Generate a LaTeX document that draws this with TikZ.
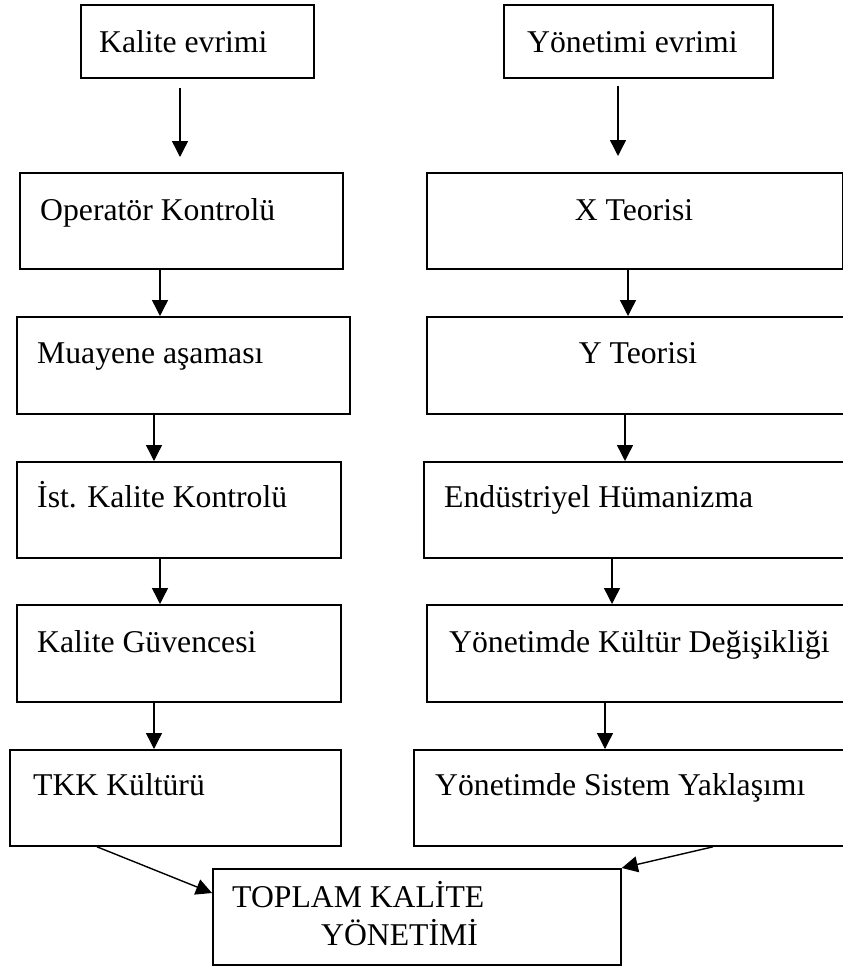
\documentclass[tikz,border=0pt]{standalone}
\usepackage{fontspec}
\setmainfont{Liberation Serif}
\usetikzlibrary{arrows.meta}
\begin{document}
\begin{tikzpicture}[x=1pt,y=-1pt,
  box/.style={draw, line width=1.8pt, inner sep=0pt, anchor=north west},
  txt/.style={inner sep=0pt, font=\fontsize{31.7}{38}\selectfont, anchor=base west},
  arr/.style={line width=1.4pt, -{Triangle[length=16pt,width=16pt]}}]
\clip (0,0) rectangle (843,969);
\fill[white] (0,0) rectangle (843,969);

% left column: evolution of quality
\node[box, minimum width=233pt, minimum height=73pt] (ke) at (80,4) {};
\node[box, minimum width=323pt, minimum height=96pt] (ok) at (19,172) {};
\node[box, minimum width=333pt, minimum height=97pt] (ma) at (16,316) {};
\node[box, minimum width=324pt, minimum height=96pt] (ik) at (16,461) {};
\node[box, minimum width=324pt, minimum height=97pt] (kg) at (16,604) {};
\node[box, minimum width=331pt, minimum height=96pt] (tk) at (9,749) {};

% right column: evolution of management
\node[box, minimum width=269pt, minimum height=73pt] (ye) at (503,4) {};
\node[box, minimum width=416pt, minimum height=96pt] (xt) at (426,172) {};
\node[box, minimum width=430pt, minimum height=97pt] (yt) at (426,316) {};
\node[box, minimum width=433pt, minimum height=96pt] (eh) at (423,461) {};
\node[box, minimum width=430pt, minimum height=97pt] (yk) at (426,604) {};
\node[box, minimum width=443pt, minimum height=96pt] (ys) at (413,749) {};

% result
\node[box, minimum width=408pt, minimum height=96pt] (tkm) at (212,868) {};

% labels
\node[txt] (tke) at (99,52) {Kalite evrimi};
\node[txt] (tok) at (40,220) {Operatör Kontrolü};
\node[txt] (tma) at (37,363) {Muayene aşaması};
\node[txt] (tik) at (37,507) {İst. Kalite Kontrolü};
\node[txt] (tkg) at (37,652) {Kalite Güvencesi};
\node[txt] (ttk) at (33,795) {TKK Kültürü};
\node[txt] (tye) at (527,52) {Yönetimi evrimi};
\node[txt, anchor=base] (txt) at (634,220) {X Teorisi};
\node[txt, anchor=base] (tyt) at (638,363) {Y Teorisi};
\node[txt] (teh) at (444,507) {Endüstriyel Hümanizma};
\node[txt] (tyk) at (449,652) {Yönetimde Kültür Değişikliği};
\node[txt] (tys) at (435,795) {Yönetimde Sistem Yaklaşımı};
\node[txt] (tt1) at (232,907) {TOPLAM KALİTE};
\node[txt] (tt2) at (321,945) {YÖNETİMİ};

% arrow columns
\coordinate (l1) at (180,0);
\coordinate (l2) at (160,0);
\coordinate (l3) at (154,0);
\coordinate (l4) at (160,0);
\coordinate (l5) at (154,0);
\coordinate (r1) at (618,0);
\coordinate (r2) at (628,0);
\coordinate (r3) at (625,0);
\coordinate (r4) at (612,0);
\coordinate (r5) at (605,0);

\draw[arr, shorten <=9pt, shorten >=15pt] (ke.south -| l1) -- (ok.north -| l1);
\draw[arr] (ok.south -| l2) -- (ma.north -| l2);
\draw[arr] (ma.south -| l3) -- (ik.north -| l3);
\draw[arr] (ik.south -| l4) -- (kg.north -| l4);
\draw[arr] (kg.south -| l5) -- (tk.north -| l5);

\draw[arr, shorten <=7pt, shorten >=16pt] (ye.south -| r1) -- (xt.north -| r1);
\draw[arr] (xt.south -| r2) -- (yt.north -| r2);
\draw[arr] (yt.south -| r3) -- (eh.north -| r3);
\draw[arr] (eh.south -| r4) -- (yk.north -| r4);
\draw[arr] (yk.south -| r5) -- (ys.north -| r5);

% both columns lead into the result
\draw[arr] ([xshift=88pt]tk.south west) -- ([yshift=-25pt]tkm.north west);
\draw[arr] ([xshift=300pt]ys.south west) -- (tkm.north east);
\end{tikzpicture}
\end{document}
